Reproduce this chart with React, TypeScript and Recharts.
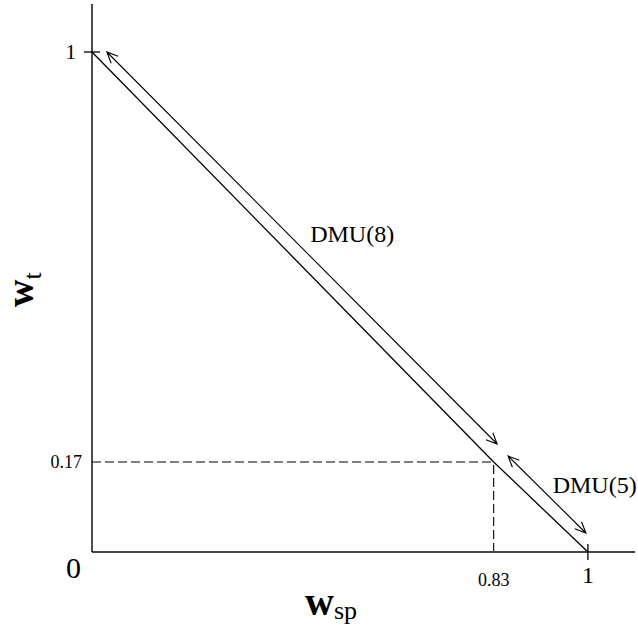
import React from 'react'
import { LineChart, Line, XAxis, YAxis, ReferenceLine, ReferenceDot } from 'recharts'

const FONT = '"Liberation Serif", "Times New Roman", serif'

// efficient frontier for the two DMUs (w_sp + w_t = 1)
const FRONTIER = [
  { x: 0, y: 1 },
  { x: 0.81, y: 0.18 },
  { x: 1, y: 0 },
]
const SPLIT = { x: 0.81, y: 0.18 }

const X_TICKS = [0.81, 1]
const X_TICK_LABELS = ['0.83', '1']
const Y_TICKS = [0, 0.18, 1]
const Y_TICK_LABELS = ['0', '0.17', '1']

// double headed arrows drawn beside the frontier: [from, to]
const ARROW_DMU8 = [{ x: 0.03, y: 1.0 }, { x: 0.817, y: 0.216 }]
const ARROW_DMU5 = [{ x: 0.839, y: 0.192 }, { x: 0.996, y: 0.038 }]

const DMU_NAMES = ['DMU(8)', 'DMU(5)']
const DMU_X = [0.44, 0.929]
const DMU_Y = [0.62, 0.118]

function DoubleArrow(props: any) {
  const { x1, y1, x2, y2 } = props
  const dx = x2 - x1
  const dy = y2 - y1
  const len = Math.hypot(dx, dy)
  const ux = dx / len
  const uy = dy / len
  const L = 12
  const a = (24 * Math.PI) / 180
  const c = Math.cos(a)
  const s = Math.sin(a)
  // v points from the tip back along the shaft
  const head = (tx: number, ty: number, vx: number, vy: number) =>
    `M${tx + L * (vx * c - vy * s)},${ty + L * (vx * s + vy * c)}L${tx},${ty}` +
    `L${tx + L * (vx * c + vy * s)},${ty + L * (-vx * s + vy * c)}`
  const d = `M${x1},${y1}L${x2},${y2}` + head(x1, y1, ux, uy) + head(x2, y2, -ux, -uy)
  return <path d={d} fill="none" stroke="#000" strokeWidth={1.1} />
}

function XTick(props: any) {
  const { x, y, payload } = props
  const label = X_TICK_LABELS[X_TICKS.indexOf(payload.value)]
  const big = payload.value === 1
  return (
    <g>
      {big && <line x1={x} x2={x} y1={y - 8} y2={y + 8} stroke="#000" strokeWidth={1.3} />}
      <text x={x} y={y + (big ? 31 : 34)} textAnchor="middle" fontFamily={FONT} fontSize={big ? 24 : 18}>
        {label}
      </text>
    </g>
  )
}

function YTick(props: any) {
  const { x, y, payload } = props
  const label = Y_TICK_LABELS[Y_TICKS.indexOf(payload.value)]
  if (payload.value === 1) {
    return (
      <g>
        <line x1={x - 8} x2={x + 8} y1={y} y2={y} stroke="#000" strokeWidth={1.3} />
        <text x={x - 16} y={y + 7} textAnchor="end" fontFamily={FONT} fontSize={21}>{label}</text>
      </g>
    )
  }
  if (payload.value === 0) {
    return <text x={x - 11} y={y + 26} textAnchor="end" fontFamily={FONT} fontSize={30}>{label}</text>
  }
  return <text x={x - 10} y={y + 6} textAnchor="end" fontFamily={FONT} fontSize={18}>{label}</text>
}

function XTitle(props: any) {
  const { viewBox } = props
  return (
    <text x={viewBox.x + 213} y={viewBox.y + 63} fontFamily={FONT}>
      <tspan fontSize={40} fontWeight="bold">w</tspan>
      <tspan fontSize={26} dy={4}>sp</tspan>
    </text>
  )
}

function YTitle(props: any) {
  const { viewBox } = props
  const tx = viewBox.x + viewBox.width - 59
  const ty = viewBox.y + 303
  return (
    <text x={tx} y={ty} transform={`rotate(-90, ${tx}, ${ty})`} fontFamily={FONT}>
      <tspan fontSize={38} fontWeight="bold">w</tspan>
      <tspan fontSize={26} dy={8}>t</tspan>
    </text>
  )
}

function DmuLabel(text: string) {
  return (props: any) => {
    const { viewBox } = props
    return (
      <text x={viewBox.x} y={viewBox.y} fontFamily={FONT} fontSize={24}>{text}</text>
    )
  }
}

export default function App() {
  return (
    <div style={{ position: 'absolute', left: 0, top: 0, background: '#fff' }}>
      <LineChart width={638} height={637} data={FRONTIER} margin={{ top: 4, right: 3, left: 91, bottom: 84 }}>
        <XAxis
          type="number" dataKey="x" domain={[0, 1.095]} ticks={X_TICKS} height={1}
          axisLine={{ stroke: '#444', strokeWidth: 2 }} tickLine={false} tickSize={0} tickMargin={0}
          tick={<XTick />} interval={0} allowDataOverflow label={{ content: XTitle }}
        />
        <YAxis
          type="number" domain={[0, 1.096]} ticks={Y_TICKS} width={1}
          axisLine={{ stroke: '#000', strokeWidth: 1.4 }} tickLine={false} tickSize={0} tickMargin={0}
          tick={<YTick />} interval={0} allowDataOverflow label={{ content: YTitle }}
        />
        <ReferenceLine segment={[{ x: 0, y: SPLIT.y }, { x: SPLIT.x, y: SPLIT.y }]} stroke="#000" strokeWidth={1.1} strokeDasharray="9 4" />
        <ReferenceLine segment={[{ x: SPLIT.x, y: 0 }, { x: SPLIT.x, y: SPLIT.y }]} stroke="#000" strokeWidth={1.1} strokeDasharray="9 4" />
        <Line dataKey="y" stroke="#000" strokeWidth={1.3} dot={false} isAnimationActive={false} />
        <ReferenceLine segment={ARROW_DMU8} shape={DoubleArrow} ifOverflow="visible" />
        <ReferenceLine segment={ARROW_DMU5} shape={DoubleArrow} ifOverflow="visible" />
        {DMU_NAMES.map((name, i) => (
          <ReferenceDot key={name} x={DMU_X[i]} y={DMU_Y[i]} r={0} fill="none" stroke="none" ifOverflow="visible"
            label={{ content: DmuLabel(name) }} />
        ))}
      </LineChart>
    </div>
  )
}
